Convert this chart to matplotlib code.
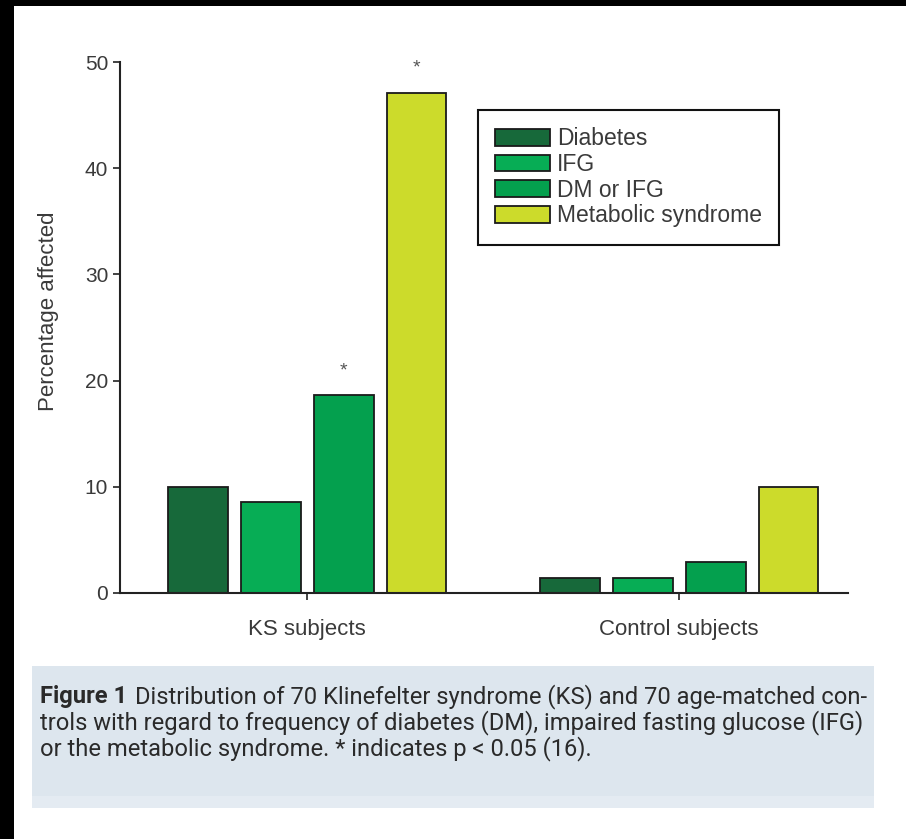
import numpy as np
from matplotlib import pyplot as plt
from matplotlib.patches import Rectangle

groups = ['KS subjects', 'Control subjects']
series = ['Diabetes', 'IFG', 'DM or IFG', 'Metabolic syndrome']
# percentages of 70 subjects per group
diabetes = [10.0, 1.4]
ifg = [8.6, 1.4]
dm_or_ifg = [18.6, 2.9]
metabolic = [47.1, 10.0]
significant = [[False, False], [False, False], [True, False], [True, False]]
colorlst = ['#17693a', '#07ad55', '#04a04e', '#ccdb2b']
caption_bold = 'Figure 1'
caption_lines = ['Distribution of 70 Klinefelter syndrome (KS) and 70 age-matched con-',
                 'trols with regard to frequency of diabetes (DM), impaired fasting glucose (IFG)',
                 'or the metabolic syndrome. * indicates p < 0.05 (16).']

plt.rcParams['font.family'] = ['Liberation Sans', 'DejaVu Sans']
W, H = 906, 839

fig = plt.figure(figsize=(W / 100, H / 100), dpi=100)
fig.patch.set_facecolor('white')

# black scan border at top and left
fig.patches.append(Rectangle((0, 1 - 6 / H), 1, 6 / H, transform=fig.transFigure,
                             facecolor='black', edgecolor='none', zorder=0))
fig.patches.append(Rectangle((0, 0), 14 / W, 1, transform=fig.transFigure,
                             facecolor='black', edgecolor='none', zorder=0))

ax = fig.add_axes([120 / W, 1 - 593 / H, (848 - 120) / W, (593 - 62) / H])

xtick = np.arange(len(groups))
barwidth = 0.161
step = 0.196
values = [diabetes, ifg, dm_or_ifg, metabolic]
for i, (vals, color, label) in enumerate(zip(values, colorlst, series)):
    pos = xtick + (i - 1.5) * step
    ax.bar(pos, vals, width=barwidth, color=color, edgecolor='#1a1a1a', linewidth=1.3, label=label)
    for p, v, s in zip(pos, vals, significant[i]):
        if s:
            ax.text(p, v + 1.5, '*', ha='center', va='bottom', fontsize=14, color='#555555')

ax.set_xlim(-0.503, 1.454)
ax.set_ylim(0, 50)
ax.set_yticks([0, 10, 20, 30, 40, 50])
ax.set_xticks(xtick)
ax.set_xticklabels(groups)
ax.spines['top'].set_visible(False)
ax.spines['right'].set_visible(False)
for sp in ['left', 'bottom']:
    ax.spines[sp].set_linewidth(1.5)
    ax.spines[sp].set_color('#222222')
ax.tick_params(axis='both', direction='out', length=5, width=1.2, color='#222222',
               labelsize=15, labelcolor='#3a3a3a')
ax.tick_params(axis='x', labelsize=16, pad=14)
ax.set_ylabel('Percentage affected', fontsize=16, color='#3a3a3a')
ax.yaxis.set_label_coords(-0.084, 0.53)

leg = ax.legend(loc='upper left', bbox_to_anchor=(478 / W, 1 - 110 / H),
                bbox_transform=fig.transFigure, borderaxespad=0, fancybox=False,
                fontsize=16.5, handlelength=2.4, handleheight=0.75, handletextpad=0.3,
                labelspacing=0.12, borderpad=0.75, framealpha=1)
leg.get_frame().set_edgecolor('#111111')
leg.get_frame().set_linewidth(1.5)
for t in leg.get_texts():
    t.set_color('#3a3a3a')

# caption box
fig.patches.append(Rectangle((32 / W, 1 - 808 / H), (874 - 32) / W, (808 - 666) / H,
                             transform=fig.transFigure, facecolor='#dde6ee', edgecolor='none', zorder=0))
fig.patches.append(Rectangle((32 / W, 1 - 808 / H), (874 - 32) / W, 12 / H,
                             transform=fig.transFigure, facecolor='#e4ebf2', edgecolor='none', zorder=0))

capfont = ['Roboto', 'DejaVu Sans']
capcolor = '#2a2a2a'
x0 = 40
line_y = [697, 723, 749]
renderer = fig.canvas.get_renderer()

# pick a font size so the full second line fills the box width
probe = fig.text(0, 0, caption_lines[1], fontsize=10, family=capfont)
wpx = probe.get_window_extent(renderer).width
probe.remove()
capsize = 10 * (866 - x0) / wpx

tb = fig.text(x0 / W, 1 - line_y[0] / H, caption_bold, fontsize=capsize, fontweight='bold',
              family=capfont, color=capcolor, va='center')
bw = tb.get_window_extent(renderer).width
fig.text((x0 + bw + 8) / W, 1 - line_y[0] / H, caption_lines[0], fontsize=capsize,
         family=capfont, color=capcolor, va='center')
for line, y in zip(caption_lines[1:], line_y[1:]):
    fig.text(x0 / W, 1 - y / H, line, fontsize=capsize, family=capfont, color=capcolor, va='center')

plt.savefig('out.png', dpi=100)
plt.close()
